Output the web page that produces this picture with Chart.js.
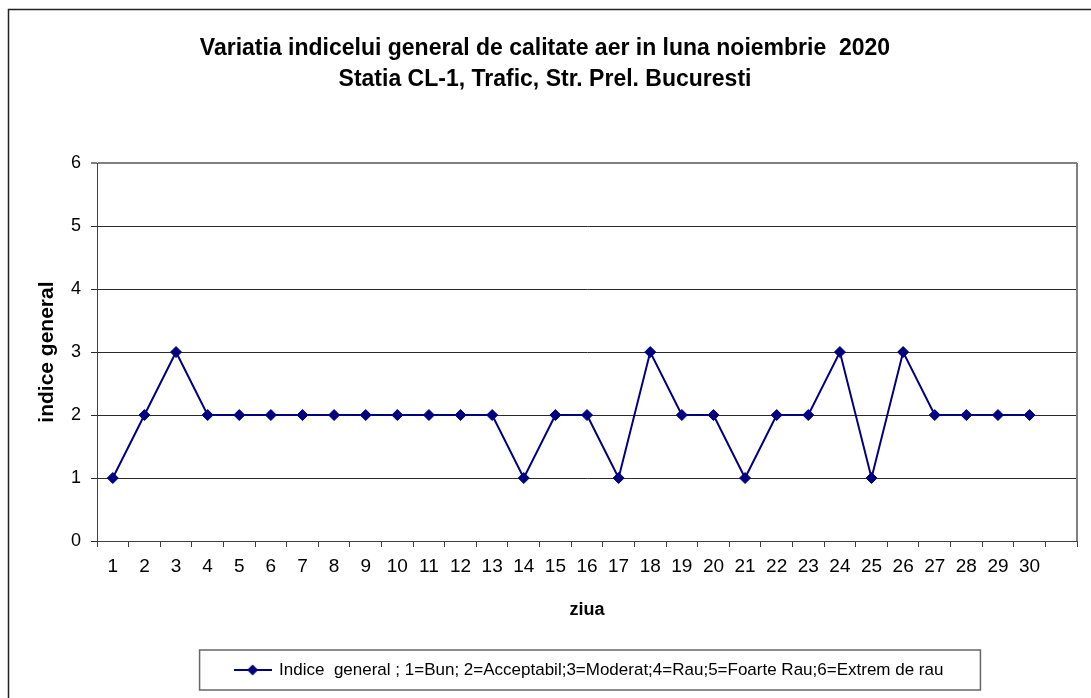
<!DOCTYPE html>
<html>
<head>
<meta charset="utf-8">
<script src="https://cdn.jsdelivr.net/npm/chart.js@4.4.1/dist/chart.umd.min.js"></script>
<style>
  html, body { margin: 0; padding: 0; background: #fff; }
  #wrap { position: relative; width: 1091px; height: 698px; }
</style>
</head>
<body>
<div id="wrap"><canvas id="aqi"></canvas></div>
<script>
// zilele lunii (ultima pozitie ramane goala, ca in graficul original)
let days = ['1','2','3','4','5','6','7','8','9','10','11','12','13','14','15',
            '16','17','18','19','20','21','22','23','24','25','26','27','28','29','30'];
let xLabels = days.concat(['']);

// indice general pe zile
let indice = [1,2,3,2,2,2,2,2,2,2,2,2,2,1,2,2,1,3,2,2,1,2,2,3,1,3,2,2,2,2];

let yMin = 0;
let yMax = 6;

let titleLines = ['Variatia indicelui general de calitate aer in luna noiembrie  2020',
                  'Statia CL-1, Trafic, Str. Prel. Bucuresti'];
let seriesLabel = 'Indice  general ; 1=Bun; 2=Acceptabil;3=Moderat;4=Rau;5=Foarte Rau;6=Extrem de rau';

var FONT = "'Liberation Sans', Arial, sans-serif";
var NAVY = '#000080';

// marker for the legend: line with a diamond in the middle
var mark = document.createElement('canvas');
mark.width = 38; mark.height = 14;
var mc = mark.getContext('2d');
mc.strokeStyle = NAVY; mc.lineWidth = 2;
mc.beginPath(); mc.moveTo(0, 7); mc.lineTo(38, 7); mc.stroke();
mc.fillStyle = NAVY;
mc.beginPath(); mc.moveTo(19, 1.5); mc.lineTo(24.5, 7); mc.lineTo(19, 12.5); mc.lineTo(13.5, 7); mc.closePath(); mc.fill();

var framePlugin = {
    id: 'frame',
    afterLayout: function (chart) {
        // legend box sits a bit to the right, title a bit to the left
        chart.legend.left += 35; chart.legend.right += 35;
        chart.titleBlock.left -= 9; chart.titleBlock.right -= 9;
    },
    beforeDraw: function (chart) {
        var c = chart.ctx;
        c.save();
        c.fillStyle = '#fff';
        c.fillRect(0, 0, chart.width, chart.height);
        c.strokeStyle = '#222';
        c.lineWidth = 1.5;
        c.strokeRect(8.5, 9.5, 2000, 2000);
        c.restore();
    },
    afterDraw: function (chart) {
        var c = chart.ctx;
        var a = chart.chartArea;
        c.save();
        // right border of plot area
        c.strokeStyle = '#808080';
        c.lineWidth = 2;
        c.beginPath(); c.moveTo(a.right, a.top); c.lineTo(a.right, a.bottom); c.stroke();
        // box around legend
        var hb = chart.legend.legendHitBoxes[0];
        if (hb) {
            var cy = hb.top + hb.height / 2;
            c.strokeStyle = '#666';
            c.lineWidth = 1.5;
            c.strokeRect(hb.left - 35, cy - 20, hb.width + 72, 40);
        }
        c.restore();
    }
};

var ctx = document.getElementById('aqi').getContext('2d');

var data = {
    labels: xLabels,
    datasets: [{
        label: seriesLabel,
        data: indice,
        borderColor: NAVY,
        backgroundColor: NAVY,
        borderWidth: 2,
        pointStyle: 'rectRot',
        pointRadius: 5.5,
        pointBorderWidth: 1,
        tension: 0,
        fill: false
    }]
};

var options = {
    responsive: true,
    maintainAspectRatio: false,
    animation: false,
    layout: { padding: { left: 31, right: 14, top: 0, bottom: 9.5 } },
    scales: {
        x: {
            offset: true,
            afterFit: function (s) { s.height = 110.5; },
            grid: { offset: true, drawOnChartArea: false, drawTicks: true, tickLength: 6, color: '#404040' },
            border: { color: '#404040', width: 1 },
            ticks: { autoSkip: false, maxRotation: 0, padding: 8, color: '#000', font: { family: FONT, size: 19 } },
            title: { display: true, text: 'ziua', color: '#000', padding: { top: 4, bottom: 31 },
                     font: { family: FONT, size: 18, weight: 'bold' } }
        },
        y: {
            min: yMin,
            max: yMax,
            afterFit: function (s) { s.width = 66; },
            grid: {
                tickLength: 6,
                color: function (c) { return c.tick && c.tick.value === yMax ? '#808080' : '#2a2a2a'; },
                lineWidth: function (c) { return c.tick && c.tick.value === yMax ? 2 : 1; }
            },
            border: { color: '#404040', width: 1 },
            ticks: { stepSize: 1, padding: 10, color: '#000', font: { family: FONT, size: 18 } },
            title: { display: true, text: 'indice general', color: '#000', padding: { top: 4, bottom: 4 },
                     font: { family: FONT, size: 21, weight: 'bold' } }
        }
    },
    plugins: {
        title: {
            display: true,
            text: titleLines,
            color: '#000',
            font: { family: FONT, size: 23, weight: 'bold', lineHeight: 1.35 },
            padding: { top: 33, bottom: 68 }
        },
        legend: {
            position: 'bottom',
            labels: {
                usePointStyle: true,
                pointStyleWidth: 36,
                padding: 10,
                color: '#000',
                font: { family: FONT, size: 17 },
                generateLabels: function (chart) {
                    return chart.data.datasets.map(function (ds, i) {
                        return { text: ds.label, pointStyle: mark, fillStyle: NAVY, strokeStyle: NAVY,
                                 lineWidth: 0, datasetIndex: i, hidden: false, fontColor: '#000' };
                    });
                }
            }
        },
        tooltip: { enabled: false }
    }
};

var chart = new Chart(ctx, {
    type: 'line',
    data: data,
    options: options,
    plugins: [framePlugin]
});
</script>
</body>
</html>
